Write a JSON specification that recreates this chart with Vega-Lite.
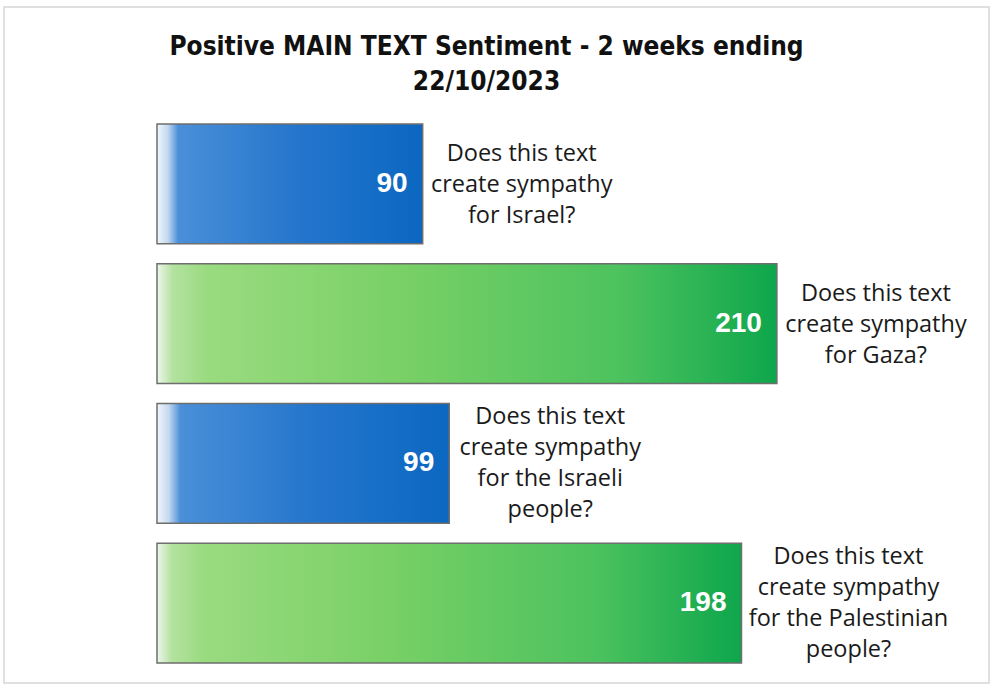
{
  "$schema": "https://vega.github.io/schema/vega-lite/v6.json",
  "autosize": "none",
  "padding": {"left": 4, "top": 7, "right": 4, "bottom": 8},
  "width": 985,
  "height": 676,
  "background": "white",
  "title": {
    "text": ["Positive MAIN TEXT Sentiment - 2 weeks ending", "22/10/2023"],
    "font": "DejaVu Sans Condensed, Roboto, sans-serif",
    "fontSize": 26,
    "fontWeight": "bold",
    "color": "#111111",
    "anchor": "middle",
    "dx": -10,
    "lineHeight": 35,
    "baseline": "top",
    "offset": -88
  },
  "config": {"view": {"stroke": "#d6d6d6", "strokeWidth": 1.5}},
  "data": {
    "values": [
      {"q": "Israel", "group": "blue", "value": 90, "label": ["Does this text", "create sympathy", "for Israel?"]},
      {"q": "Gaza", "group": "green", "value": 210, "label": ["Does this text", "create sympathy", "for Gaza?"]},
      {"q": "Israeli people", "group": "blue", "value": 99, "label": ["Does this text", "create sympathy", "for the Israeli", "people?"]},
      {"q": "Palestinian people", "group": "green", "value": 198, "label": ["Does this text", "create sympathy", "for the Palestinian", "people?"]}
    ]
  },
  "encoding": {
    "y": {"field": "q", "type": "nominal", "axis": null,
      "scale": {"domain": ["Israel", "Gaza", "Israeli people", "Palestinian people"], "range": [117, 656], "paddingInner": 0.143, "paddingOuter": 0}},
    "x": {"field": "value", "type": "quantitative", "axis": null,
      "scale": {"domain": [-51.83, 281.85], "zero": false, "nice": false}}
  },
  "layer": [
    {
      "transform": [{"filter": "datum.group === 'blue'"}],
      "mark": {"type": "bar", "stroke": "#6e6e6e", "strokeWidth": 1.5, "cornerRadius": 0,
        "fill": {"gradient": "linear", "x1": 0, "y1": 0, "x2": 1, "y2": 0,
          "stops": [
            {"offset": 0, "color": "#f2f6fb"},
            {"offset": 0.04, "color": "#c4d9f0"},
            {"offset": 0.08, "color": "#4a8fd8"},
            {"offset": 0.5, "color": "#2677cd"},
            {"offset": 1, "color": "#0b67c1"}
          ]}},
      "encoding": {"x2": {"datum": 0}}
    },
    {
      "transform": [{"filter": "datum.group === 'green'"}],
      "mark": {"type": "bar", "stroke": "#6e6e6e", "strokeWidth": 1.5, "cornerRadius": 0,
        "fill": {"gradient": "linear", "x1": 0, "y1": 0, "x2": 1, "y2": 0,
          "stops": [
            {"offset": 0, "color": "#eef6ec"},
            {"offset": 0.025, "color": "#b4e2a0"},
            {"offset": 0.08, "color": "#9adb80"},
            {"offset": 0.4, "color": "#78d066"},
            {"offset": 0.75, "color": "#4cc25e"},
            {"offset": 1, "color": "#0ea64c"}
          ]}},
      "encoding": {"x2": {"datum": 0}}
    },
    {
      "mark": {"type": "text", "align": "right", "baseline": "middle", "dx": -15,
        "font": "Liberation Sans", "fontWeight": "bold", "fontSize": 28, "color": "white"},
      "encoding": {"text": {"field": "value", "type": "quantitative"}}
    },
    {
      "transform": [{"filter": "datum.label.length === 3"}],
      "mark": {"type": "text", "align": "center", "baseline": "middle", "dx": 99, "dy": -30,
        "font": "Open Sans", "fontSize": 23.5, "color": "#1a1a1a", "lineHeight": 31},
      "encoding": {"text": {"field": "label"}}
    },
    {
      "transform": [{"filter": "datum.q === 'Israeli people'"}],
      "mark": {"type": "text", "align": "center", "baseline": "middle", "dx": 101, "dy": -46,
        "font": "Open Sans", "fontSize": 23.5, "color": "#1a1a1a", "lineHeight": 31},
      "encoding": {"text": {"field": "label"}}
    },
    {
      "transform": [{"filter": "datum.q === 'Palestinian people'"}],
      "mark": {"type": "text", "align": "center", "baseline": "middle", "dx": 107, "dy": -46,
        "font": "Open Sans", "fontSize": 23.5, "color": "#1a1a1a", "lineHeight": 31},
      "encoding": {"text": {"field": "label"}}
    }
  ]
}
